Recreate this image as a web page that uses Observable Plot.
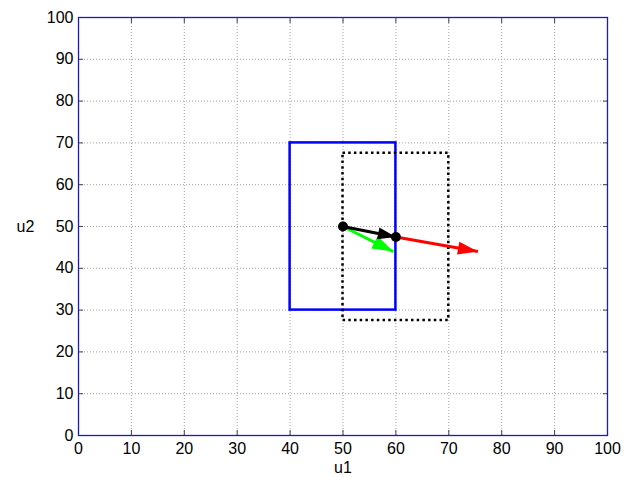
<!DOCTYPE html>
<html>
<head>
<meta charset="utf-8">
<script src="https://cdn.jsdelivr.net/npm/d3@7"></script>
<script src="https://cdn.jsdelivr.net/npm/@observablehq/plot@0.6"></script>
<style>
  html, body { margin: 0; padding: 0; background: #fff; }
  #chart svg { display: block; }
</style>
</head>
<body>
<div id="chart"></div>
<script>
// ---- data ----
const ticks = [0, 10, 20, 30, 40, 50, 60, 70, 80, 90, 100];

// boxes: solid blue and dotted black
const boxX1 = [40, 50];
const boxX2 = [60, 70];
const boxY1 = [30, 27.5];
const boxY2 = [70, 67.5];
const boxColor = ["#0000ff", "#000000"];
const boxDash = [null, "2.5,3.2"];

// arrows: red, green, black
const arrowX1 = [60, 50, 50];
const arrowY1 = [47.5, 50, 50];
const arrowX2 = [75.5, 59.5, 60];
const arrowY2 = [44, 44, 47.5];
const arrowColor = ["#ff0000", "#00ff00", "#000000"];
const arrowHeadLen = [20, 21, 18];
const arrowHeadWid = [13, 14, 12];

// points
const pointX = [50, 60];
const pointY = [50, 47.5];

// ---- layout ----
const W = 631, H = 477;
const mL = 78, mR = 24, mT = 17, mB = 42;
const kx = (W - mL - mR) / 100;
const ky = (H - mT - mB) / 100;
const FS = 16;

const boxes = boxX1.map((_, i) => ({x1: boxX1[i], x2: boxX2[i], y1: boxY1[i], y2: boxY2[i], c: boxColor[i], d: boxDash[i]}));
const arrows = arrowX1.map((_, i) => ({x1: arrowX1[i], y1: arrowY1[i], x2: arrowX2[i], y2: arrowY2[i], c: arrowColor[i], L: arrowHeadLen[i], w: arrowHeadWid[i]}));
const points = pointX.map((x, i) => ({x, y: pointY[i]}));

function headSymbol(a) {
  const dxp = (a.x2 - a.x1) * kx;
  const dyp = -(a.y2 - a.y1) * ky;
  const t = Math.atan2(dyp, dxp);
  const c = Math.cos(t), s = Math.sin(t);
  return {
    draw(ctx) {
      const bx = -a.L * c, by = -a.L * s;
      ctx.moveTo(0, 0);
      ctx.lineTo(bx - a.w / 2 * (-s), by - a.w / 2 * c);
      ctx.lineTo(bx + a.w / 2 * (-s), by + a.w / 2 * c);
      ctx.closePath();
    }
  };
}

const marks = [
  Plot.gridX(ticks, {stroke: "#a0a0a0", strokeOpacity: 1, strokeDasharray: "1,2"}),
  Plot.gridY(ticks, {stroke: "#a0a0a0", strokeOpacity: 1, strokeDasharray: "1,2"}),
  // inward ticks
  Plot.axisX(ticks, {anchor: "bottom", tickSize: -5, tickFormat: () => "", stroke: "#444", label: null}),
  Plot.axisX(ticks, {anchor: "top", tickSize: -5, tickFormat: () => "", stroke: "#444", label: null}),
  Plot.axisY(ticks, {anchor: "left", tickSize: -5, tickFormat: () => "", stroke: "#444", label: null}),
  Plot.axisY(ticks, {anchor: "right", tickSize: -5, tickFormat: () => "", stroke: "#444", label: null}),
  // tick labels
  Plot.axisX(ticks, {anchor: "bottom", tickSize: 0, tickPadding: 7, label: null, fill: "#000", fontSize: FS}),
  Plot.axisY(ticks, {anchor: "left", tickSize: 0, tickPadding: 5, label: null, fill: "#000", fontSize: FS}),
  ...boxes.map(b => Plot.rect([b], {x1: "x1", x2: "x2", y1: "y1", y2: "y2", fill: "none", stroke: b.c, strokeWidth: 2.5, strokeDasharray: b.d})),
  ...arrows.map(a => Plot.link([a], {x1: "x1", y1: "y1", x2: "x2", y2: "y2", stroke: a.c, strokeWidth: 3})),
  ...arrows.map(a => Plot.dot([a], {x: "x2", y: "y2", symbol: headSymbol(a), r: 5, fill: a.c, stroke: "none"})),
  Plot.dot(points, {x: "x", y: "y", r: 5, fill: "#000", stroke: "none"}),
  Plot.frame({stroke: "#1a1acc", strokeWidth: 1.3}),
  Plot.text(["u1"], {frameAnchor: "bottom", dy: 37, textAnchor: "middle", fontSize: FS, fill: "#000"}),
  Plot.text(["u2"], {frameAnchor: "left", dx: -53, textAnchor: "middle", fontSize: FS, fill: "#000"})
];

const chart = Plot.plot({
  width: W,
  height: H,
  marginLeft: mL,
  marginRight: mR,
  marginTop: mT,
  marginBottom: mB,
  style: {fontFamily: "'Liberation Sans', Arial, sans-serif", fontSize: "16px", background: "#fff", color: "#000"},
  x: {domain: [0, 100], axis: null},
  y: {domain: [0, 100], axis: null},
  marks
});
document.getElementById("chart").appendChild(chart);
</script>
</body>
</html>
